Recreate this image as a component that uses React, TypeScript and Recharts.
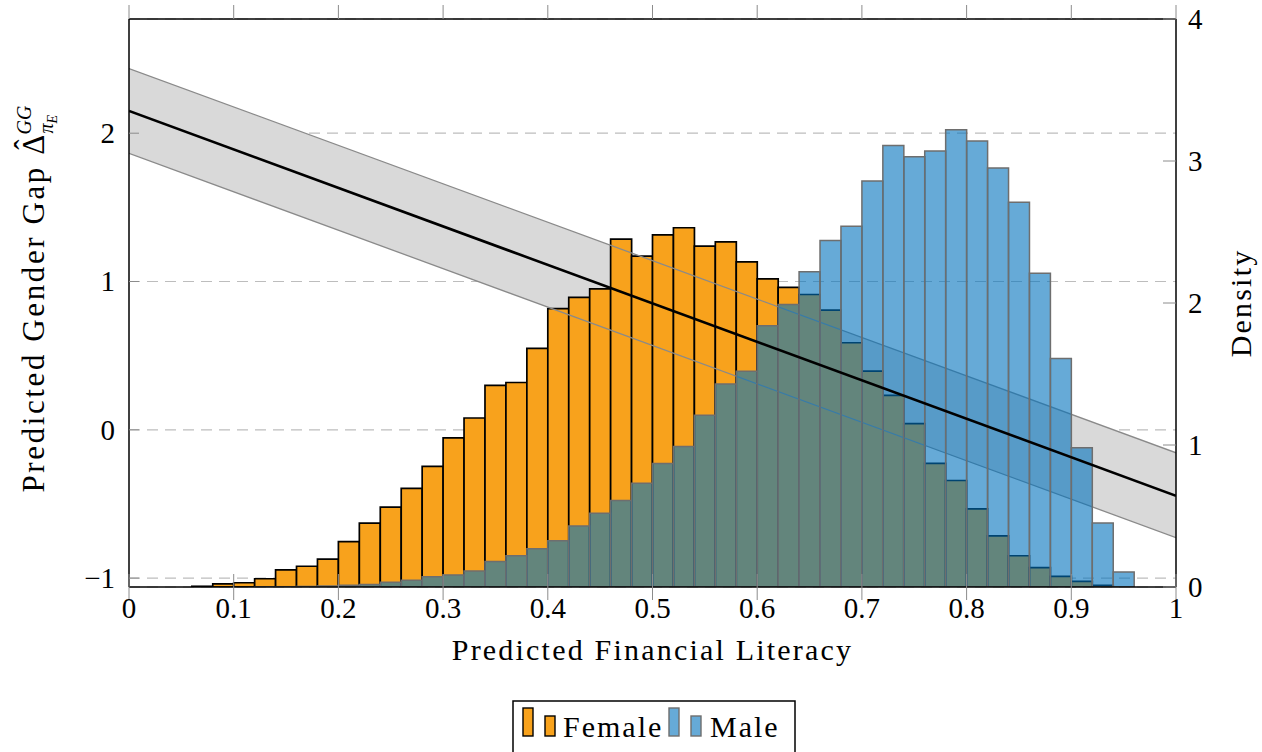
import React from "react";
import {
  Area,
  Bar,
  CartesianGrid,
  ComposedChart,
  Line,
  XAxis,
  YAxis,
} from "recharts";

// histogram bins of width 0.02, given by their centres
const binCenters = [
  0.07, 0.09, 0.11, 0.13, 0.15, 0.17, 0.19, 0.21, 0.23, 0.25, 0.27, 0.29, 0.31,
  0.33, 0.35, 0.37, 0.39, 0.41, 0.43, 0.45, 0.47, 0.49, 0.51, 0.53, 0.55, 0.57,
  0.59, 0.61, 0.63, 0.65, 0.67, 0.69, 0.71, 0.73, 0.75, 0.77, 0.79, 0.81, 0.83,
  0.85, 0.87, 0.89, 0.91, 0.93, 0.95,
];

const femaleDensity = [
  0.005, 0.022, 0.03, 0.058, 0.12, 0.146, 0.197, 0.32, 0.45, 0.563, 0.695, 0.85,
  1.05, 1.19, 1.42, 1.44, 1.68, 1.96, 2.04, 2.1, 2.45, 2.33, 2.48, 2.53, 2.4,
  2.43, 2.29, 2.17, 2.11, 2.06, 1.95, 1.72, 1.52, 1.35, 1.15, 0.87, 0.75, 0.55,
  0.36, 0.22, 0.136, 0.075, 0.04, 0.012, 0,
];

const maleDensity = [
  0, 0, 0, 0.001, 0.002, 0.004, 0.007, 0.012, 0.018, 0.033, 0.047, 0.072, 0.085,
  0.112, 0.18, 0.22, 0.27, 0.326, 0.43, 0.52, 0.61, 0.73, 0.87, 0.99, 1.21, 1.43,
  1.52, 1.84, 1.99, 2.22, 2.44, 2.54, 2.86, 3.11, 3.03, 3.07, 3.22, 3.14, 2.95,
  2.71, 2.21, 1.61, 0.98, 0.45, 0.106,
];

// fitted gender gap with its confidence band
const fitX = [0, 1];
const fitMid = [2.15, -0.445];
const fitLow = [1.864, -0.727];
const fitHigh = [2.436, -0.155];

const xTicks = [0, 0.1, 0.2, 0.3, 0.4, 0.5, 0.6, 0.7, 0.8, 0.9, 1];
const gapTicks = [-1, 0, 1, 2];
const densityTicks = [0, 1, 2, 3, 4];

const bins = binCenters.map((x, i) => ({
  x,
  female: femaleDensity[i],
  male: maleDensity[i],
}));

const fitRows = fitX.map((x, i) => ({
  x,
  mid: fitMid[i],
  low: fitLow[i],
  high: fitHigh[i],
  band: [fitLow[i], fitHigh[i]],
}));

const FONT = "'Liberation Serif', 'Times New Roman', serif";
const TICK = "#8c8c8c";
const ORANGE = "#f8a21c";
const BLUE = "#0072bd";

function fmt(v: number): string {
  return v < 0 ? `\u2212${Math.abs(v)}` : String(v);
}

function BottomTick(props: any) {
  const { x, y, payload } = props;
  const axisY = y - 10;
  return (
    <g>
      <line x1={x} x2={x} y1={axisY - 13} y2={axisY + 13} stroke={TICK} strokeWidth={1} />
      <text x={x} y={y} dy="0.72em" textAnchor="middle" fontFamily={FONT} fontSize={29} fill="#000">
        {fmt(payload.value)}
      </text>
    </g>
  );
}

function LeftTick(props: any) {
  const { x, y, payload } = props;
  const axisX = x + 14;
  return (
    <g>
      <line x1={axisX} x2={axisX + 10} y1={y} y2={y} stroke={TICK} strokeWidth={1} />
      <text x={x} y={y} dy="0.34em" textAnchor="end" fontFamily={FONT} fontSize={29} fill="#000">
        {fmt(payload.value)}
      </text>
    </g>
  );
}

function RightTick(props: any) {
  const { x, y, payload } = props;
  const axisX = x - 12;
  return (
    <g>
      <line x1={axisX - 13} x2={axisX} y1={y} y2={y} stroke={TICK} strokeWidth={1} />
      <text x={x} y={y} dy="0.34em" textAnchor="start" fontFamily={FONT} fontSize={29} fill="#000">
        {fmt(payload.value)}
      </text>
    </g>
  );
}

function EmptyTick() {
  return <g />;
}

function renderXTitle(props: any) {
  const { viewBox } = props;
  return (
    <text
      x={viewBox.x + viewBox.width / 2}
      y={viewBox.y + 73}
      textAnchor="middle"
      fontFamily={FONT}
      fontSize={30}
      letterSpacing={2.2}
      fill="#000"
    >
      Predicted Financial Literacy
    </text>
  );
}

function renderGapTitle(props: any) {
  const { viewBox } = props;
  const bx = viewBox.x + 44;
  const cy = viewBox.y + viewBox.height / 2 - 4;
  return (
    <text
      transform={`translate(${bx},${cy}) rotate(-90)`}
      textAnchor="middle"
      fontFamily={FONT}
      fontSize={31}
      letterSpacing={2.6}
      fill="#000"
    >
      {"Predicted Gender Gap "}
      <tspan letterSpacing={0}>{"\u0394"}</tspan>
      <tspan letterSpacing={0} dx={-15} dy={-8}>
        {"\u02c6"}
      </tspan>
      <tspan fontSize={20} fontStyle="italic" letterSpacing={0} dx={5} dy={-5}>
        GG
      </tspan>
      <tspan fontSize={20} fontStyle="italic" letterSpacing={0} dx={-28} dy={22}>
        {"\u03c0"}
      </tspan>
      <tspan fontSize={14} fontStyle="italic" letterSpacing={0} dy={4}>
        E
      </tspan>
    </text>
  );
}

function renderDensityTitle(props: any) {
  const { viewBox } = props;
  const bx = viewBox.x + 75;
  const cy = viewBox.y + viewBox.height / 2;
  return (
    <text
      transform={`translate(${bx},${cy}) rotate(-90)`}
      textAnchor="middle"
      fontFamily={FONT}
      fontSize={30}
      letterSpacing={2.2}
      fill="#000"
    >
      Density
    </text>
  );
}

function LegendBox() {
  return (
    <svg
      width={284}
      height={52}
      style={{ position: "absolute", left: 512, top: 700, overflow: "visible" }}
    >
      <rect x={1} y={1} width={282} height={70} fill="#fff" stroke="#000" strokeWidth={1.5} />
      <rect x={11} y={8} width={10} height={28} fill={ORANGE} stroke="#000" strokeWidth={1.4} />
      <rect x={33} y={16} width={10} height={20} fill={ORANGE} stroke="#000" strokeWidth={1.4} />
      <text x={51} y={37} fontFamily={FONT} fontSize={30} letterSpacing={2} fill="#000">
        Female
      </text>
      <rect x={157} y={8} width={10} height={28} fill={BLUE} fillOpacity={0.6} stroke="#6e6e6e" strokeWidth={1.4} />
      <rect x={179} y={16} width={10} height={20} fill={BLUE} fillOpacity={0.6} stroke="#6e6e6e" strokeWidth={1.4} />
      <text x={198} y={37} fontFamily={FONT} fontSize={30} letterSpacing={2} fill="#000">
        Male
      </text>
    </svg>
  );
}

export default function App() {
  return (
    <div
      style={{
        position: "absolute",
        left: 0,
        top: 0,
        width: 1262,
        height: 752,
        background: "#fff",
        overflow: "hidden",
      }}
    >
      <ComposedChart
        width={1262}
        height={680}
        data={bins}
        margin={{ top: 0, right: 0, bottom: 0, left: 0 }}
        barCategoryGap={0}
        barGap={0}
      >
        <CartesianGrid
          xAxisId="x"
          yAxisId="gap"
          vertical={false}
          stroke="#bdbdbd"
          strokeWidth={1.2}
          strokeDasharray="11 7"
        />
        <XAxis xAxisId="fit" dataKey="x" type="number" domain={[0, 1]} allowDataOverflow hide height={0} />
        <XAxis
          xAxisId="x"
          dataKey="x"
          type="number"
          orientation="bottom"
          domain={[0, 1]}
          ticks={xTicks}
          interval={0}
          allowDataOverflow
          height={93}
          axisLine={{ stroke: "#000", strokeWidth: 1.5 }}
          tickLine={false}
          tickSize={0}
          tickMargin={10}
          tick={<BottomTick />}
          label={renderXTitle}
        />
        <XAxis
          xAxisId="top"
          dataKey="x"
          type="number"
          orientation="top"
          domain={[0, 1]}
          ticks={xTicks}
          interval={0}
          allowDataOverflow
          height={19}
          axisLine={{ stroke: "#000", strokeWidth: 1.5 }}
          tickLine={{ stroke: TICK }}
          tickSize={14}
          tick={<EmptyTick />}
        />
        <YAxis
          yAxisId="gap"
          orientation="left"
          type="number"
          width={129}
          domain={[-1.06, 2.77]}
          ticks={gapTicks}
          interval={0}
          allowDataOverflow
          axisLine={{ stroke: "#000", strokeWidth: 1.5 }}
          tickLine={false}
          tickSize={0}
          tickMargin={14}
          tick={<LeftTick />}
          label={renderGapTitle}
        />
        <YAxis
          yAxisId="dens"
          orientation="right"
          type="number"
          width={86}
          domain={[0, 4]}
          ticks={densityTicks}
          interval={0}
          allowDataOverflow
          axisLine={{ stroke: "#000", strokeWidth: 1.5 }}
          tickLine={false}
          tickSize={0}
          tickMargin={12}
          tick={<RightTick />}
          label={renderDensityTitle}
        />
        <Area
          xAxisId="fit"
          yAxisId="gap"
          data={fitRows}
          dataKey="band"
          type="linear"
          stroke="none"
          fill="#d9d9d9"
          fillOpacity={1}
          zIndex={100}
          isAnimationActive={false}
        />
        <Bar
          xAxisId="x"
          yAxisId="dens"
          dataKey="female"
          fill={ORANGE}
          stroke="#000"
          strokeWidth={1.7}
          zIndex={300}
          isAnimationActive={false}
        />
        <Line
          xAxisId="fit"
          yAxisId="gap"
          data={fitRows}
          dataKey="high"
          type="linear"
          stroke="#8a8a8a"
          strokeWidth={1.3}
          dot={false}
          activeDot={false}
          zIndex={320}
          isAnimationActive={false}
        />
        <Line
          xAxisId="fit"
          yAxisId="gap"
          data={fitRows}
          dataKey="low"
          type="linear"
          stroke="#8a8a8a"
          strokeWidth={1.3}
          dot={false}
          activeDot={false}
          zIndex={320}
          isAnimationActive={false}
        />
        <Bar
          xAxisId="top"
          yAxisId="dens"
          dataKey="male"
          fill={BLUE}
          fillOpacity={0.6}
          stroke="#6e6e6e"
          strokeWidth={1.5}
          zIndex={340}
          isAnimationActive={false}
        />
        <Line
          xAxisId="fit"
          yAxisId="gap"
          data={fitRows}
          dataKey="mid"
          type="linear"
          stroke="#000"
          strokeWidth={2.6}
          dot={false}
          activeDot={false}
          zIndex={400}
          isAnimationActive={false}
        />
      </ComposedChart>
      <LegendBox />
    </div>
  );
}
